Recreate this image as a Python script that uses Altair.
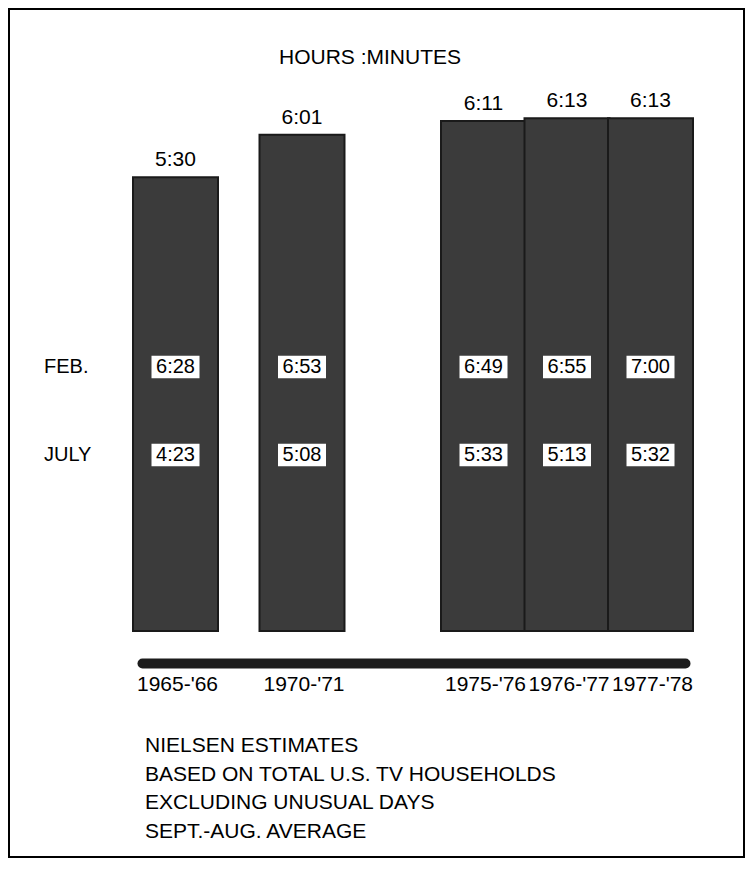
import altair as alt
import pandas as pd

# ---- data ----
seasons = ["1965-'66", "1970-'71", "1975-'76", "1976-'77", "1977-'78"]
season_start = [1965, 1970, 1975, 1976, 1977]
average_label = ["5:30", "6:01", "6:11", "6:13", "6:13"]
feb_label = ["6:28", "6:53", "6:49", "6:55", "7:00"]
july_label = ["4:23", "5:08", "5:33", "5:13", "5:32"]
row_names = ["FEB.", "JULY"]
title_text = "HOURS :MINUTES"
footnote_lines = [
    "NIELSEN ESTIMATES",
    "BASED ON TOTAL U.S. TV HOUSEHOLDS",
    "EXCLUDING UNUSUAL DAYS",
    "SEPT.-AUG. AVERAGE",
]


def to_minutes(s):
    h, m = s.split(":")
    return int(h) * 60 + int(m)


bars_df = pd.DataFrame({
    "season": seasons,
    "start": season_start,
    "avg_min": [to_minutes(v) for v in average_label],
    "avg_label": average_label,
})

months_rows = []
for row, labels in zip(row_names, [feb_label, july_label]):
    for s, st, lab in zip(seasons, season_start, labels):
        months_rows.append({"season": s, "start": st, "row": row, "label": lab})
months_df = pd.DataFrame(months_rows)

FONT = "Liberation Sans, Arial, Helvetica, sans-serif"

# piecewise x scale: the periods are not spaced evenly in the original
xs = alt.Scale(domain=[1964, 1965, 1970, 1975, 1977, 1978],
               range=[133, 166.5, 293, 474.5, 641.5, 676],
               nice=False, zero=False)
ys = alt.Scale(domain=[0, 400], range=[622, 72], nice=False, zero=True)
row_scale = alt.Scale(type="point", domain=row_names, range=[358, 446], padding=0)

x_axis = alt.Axis(labels=False, ticks=False, grid=False, title=None,
                  domainWidth=10, domainColor="#1c1c1c", domainCap="round",
                  offset=-194)

bars = alt.Chart(bars_df).mark_bar(
    orient="vertical", width=85, color="#3b3b3b", stroke="#1a1a1a", strokeWidth=2
).encode(
    x=alt.X("start:Q", scale=xs, axis=x_axis),
    y=alt.Y("avg_min:Q", scale=ys, axis=None),
)

avg_text = alt.Chart(bars_df).mark_text(
    dy=-17, fontSize=21, font=FONT, color="black"
).encode(
    x=alt.X("start:Q", scale=xs, axis=x_axis),
    y=alt.Y("avg_min:Q", scale=ys, axis=None),
    text="avg_label:N",
)

box_shape = "M-1,-0.47L1,-0.47L1,0.47L-1,0.47Z"
boxes = alt.Chart(months_df).mark_point(
    shape=box_shape, size=48 * 48, filled=True, fill="white", strokeWidth=0, opacity=1
).encode(
    x=alt.X("start:Q", scale=xs, axis=x_axis),
    y=alt.Y("row:N", scale=row_scale, axis=None),
)

box_text = alt.Chart(months_df).mark_text(
    fontSize=20, font=FONT, color="black"
).encode(
    x=alt.X("start:Q", scale=xs, axis=x_axis),
    y=alt.Y("row:N", scale=row_scale, axis=None),
    text="label:N",
)

row_text = alt.Chart(pd.DataFrame({"row": row_names})).mark_text(
    align="left", fontSize=20, font=FONT, color="black"
).encode(
    x=alt.value(35),
    y=alt.Y("row:N", scale=row_scale, axis=None),
    text="row:N",
)

cat_text = alt.Chart(bars_df).mark_text(
    fontSize=21, font=FONT, color="black", dx=2
).encode(
    x=alt.X("start:Q", scale=xs, axis=x_axis),
    y=alt.value(676),
    text="season:N",
)

title = alt.Chart(pd.DataFrame({"t": [title_text]})).mark_text(
    fontSize=21, font=FONT, color="black"
).encode(
    x=alt.value(361),
    y=alt.value(49),
    text="t:N",
)

footnote = alt.Chart(pd.DataFrame({"t": ["x"]})).mark_text(
    align="left", baseline="middle", lineHeight=28.7, fontSize=21, font=FONT, color="black"
).encode(
    x=alt.value(136),
    y=alt.value(737),
    text=alt.value(footnote_lines),
)

chart = alt.layer(
    bars, avg_text, boxes, box_text, row_text, cat_text, title, footnote
).resolve_scale(
    y="independent"
).properties(
    width=735, height=848, autosize="none",
    padding={"left": 1, "top": 1, "right": 1, "bottom": 1},
).configure_view(
    stroke="black", strokeWidth=2, fill="white"
)

chart.save("out.html", embed_options={"renderer": "svg", "actions": False})
